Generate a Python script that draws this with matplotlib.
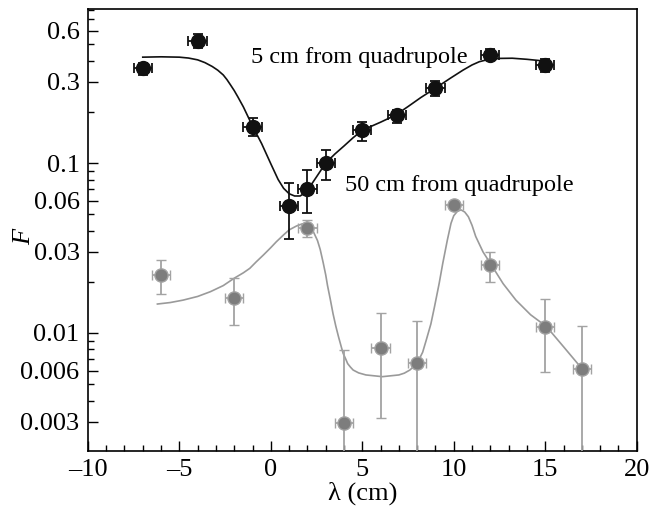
import matplotlib
matplotlib.use("Agg")
import matplotlib.pyplot as plt
from matplotlib.ticker import FixedLocator, LogLocator, NullFormatter, MultipleLocator

plt.rcParams['font.family'] = ['Liberation Serif', 'DejaVu Serif']

# 5 cm from quadrupole (black)
x5 = [-7, -4, -1, 1, 2, 3, 5, 6.9, 9, 12, 15]
f5 = [0.362, 0.523, 0.163, 0.0558, 0.0703, 0.1, 0.156, 0.191, 0.276, 0.431, 0.376]
f5_hi = [0.389, 0.574, 0.184, 0.0763, 0.091, 0.119, 0.174, 0.205, 0.304, 0.469, 0.409]
f5_lo = [0.328, 0.474, 0.144, 0.0357, 0.0508, 0.0794, 0.135, 0.172, 0.248, 0.404, 0.343]

# fit curve, 5 cm
cx5 = [-7, -6, -5, -4.5, -4, -3.6, -3.2, -2.9, -2.6, -2.4, -2.2, -2.0, -1.8, -1.5,
       -1.0, -0.5, 0.0, 0.2, 0.4, 0.7, 1.0, 1.3, 1.6, 1.8, 2.0, 2.5, 3.0, 3.5,
       4.0, 4.5, 5.0, 6.0, 6.8, 7.5, 8.2, 9.0, 9.8, 10.5, 11.0, 11.4, 11.8,
       12.5, 13.2, 14.0, 15.0]
cf5 = [0.42, 0.422, 0.42, 0.415, 0.405, 0.39, 0.37, 0.352, 0.33, 0.31, 0.288,
       0.267, 0.245, 0.214, 0.165, 0.13, 0.099, 0.089, 0.08, 0.071, 0.066,
       0.064, 0.064, 0.066, 0.069, 0.083, 0.1, 0.113, 0.126, 0.141, 0.156,
       0.174, 0.191, 0.215, 0.243, 0.276, 0.315, 0.352, 0.378, 0.395, 0.405,
       0.413, 0.414, 0.408, 0.398]

# 50 cm from quadrupole (gray)
x50 = [-6, -2, 2, 4, 6, 8, 10, 12, 15, 17]
f50 = [0.0219, 0.0161, 0.0415, 0.00296, 0.00817, 0.00666, 0.0566, 0.0251, 0.0108, 0.00614]
f50_hi = [0.0268, 0.0211, 0.046, 0.00795, 0.0131, 0.0118, 0.0598, 0.030, 0.0158, 0.011]
f50_lo = [0.0170, 0.0111, 0.0367, 0.001, 0.00316, 0.001, 0.0536, 0.020, 0.0059, 0.001]

# fit curve, 50 cm
cx50 = [-6.2, -5.5, -4.8, -4.0, -3.3, -2.6, -2.0, -1.5, -1.15, -0.8, -0.4, 0.0,
        0.3, 0.7, 1.0, 1.4, 1.7, 1.9, 2.1, 2.3, 2.55, 2.7, 2.86, 3.0, 3.1, 3.25,
        3.4, 3.55, 3.7, 3.85, 3.95, 4.1, 4.2, 4.35, 4.5, 4.8, 5.2, 6.1, 7.0,
        7.3, 7.6, 7.85, 8.05, 8.3, 8.5, 8.75, 8.95, 9.2, 9.4, 9.65, 9.85, 10.0,
        10.2, 10.4, 10.6, 10.8, 11.0, 11.2, 11.6, 12.06, 12.7, 13.4, 14.2,
        15.07, 16.0, 17.07]
cf50 = [0.0148, 0.0151, 0.0156, 0.0164, 0.0175, 0.019, 0.021, 0.0226, 0.024,
        0.0262, 0.0288, 0.0318, 0.0344, 0.0378, 0.0404, 0.0426, 0.0438,
        0.0442, 0.0438, 0.040, 0.035, 0.031, 0.026, 0.022, 0.019, 0.0158,
        0.013, 0.011, 0.0095, 0.0083, 0.0076, 0.0070, 0.0066, 0.0063, 0.00605,
        0.00582, 0.00566, 0.00553, 0.00566, 0.0058, 0.00605, 0.0064, 0.0068,
        0.0077, 0.0091, 0.0113, 0.0143, 0.0195, 0.0257, 0.0352, 0.0442, 0.049,
        0.052, 0.053, 0.0515, 0.0483, 0.043, 0.037, 0.030, 0.0251, 0.0195,
        0.0156, 0.0128, 0.0109, 0.0083, 0.00605]

xerr_half = 0.5

ytick_vals = [0.003, 0.006, 0.01, 0.03, 0.06, 0.1, 0.3, 0.6]
ytick_labels = ['0.003', '0.006', '0.01', '0.03', '0.06', '0.1', '0.3', '0.6']
xtick_vals = [-10, -5, 0, 5, 10, 15, 20]
xtick_labels = ['\u201310', '\u20135', '0', '5', '10', '15', '20']

fig = plt.figure(figsize=(6.51, 5.09), dpi=100)
ax = fig.add_axes([0.135, 0.114, 0.843, 0.868])

gray_pt = '#7d7d7d'
gray_bar = '#a3a3a3'
black = '#111111'

ax.plot(cx50, cf50, color='#9a9a9a', lw=1.2, zorder=2)
ax.errorbar(x50, f50,
            yerr=[[f - l for f, l in zip(f50, f50_lo)], [h - f for f, h in zip(f50, f50_hi)]],
            xerr=xerr_half, fmt='o', ms=9.5, mfc=gray_pt, mec=gray_bar, mew=1,
            ecolor=gray_bar, elinewidth=1.3, capsize=3.5, capthick=1.3, zorder=3)

ax.plot(cx5, cf5, color=black, lw=1.2, zorder=4)
ax.errorbar(x5, f5,
            yerr=[[f - l for f, l in zip(f5, f5_lo)], [h - f for f, h in zip(f5, f5_hi)]],
            xerr=xerr_half, fmt='o', ms=10, mfc=black, mec=black,
            ecolor=black, elinewidth=1.3, capsize=3.5, capthick=1.3, zorder=5)

ax.set_yscale('log')
ax.set_xlim(-10, 20)
ax.set_ylim(0.00202, 0.805)

ax.yaxis.set_major_locator(FixedLocator(ytick_vals))
ax.set_yticklabels(ytick_labels)
ax.yaxis.set_minor_locator(LogLocator(base=10, subs=range(1, 10)))
ax.yaxis.set_minor_formatter(NullFormatter())
ax.xaxis.set_major_locator(FixedLocator(xtick_vals))
ax.set_xticklabels(xtick_labels)
ax.xaxis.set_minor_locator(MultipleLocator(1))

ax.tick_params(which='both', direction='in', top=False, right=False,
               labelsize=19, width=1)
ax.tick_params(which='major', length=7, pad=6)
ax.tick_params(which='minor', length=4)

for s in ax.spines.values():
    s.set_linewidth(1.2)

ax.set_xlabel('\u03bb (cm)', fontsize=19, labelpad=0)
ax.set_ylabel('F', fontsize=19, style='italic')
ax.yaxis.set_label_coords(-0.097, 0.484)

ax.text(0.494, 0.891, '5 cm from quadrupole', transform=ax.transAxes,
        fontsize=17.5, ha='center', va='center')
ax.text(0.676, 0.60, '50 cm from quadrupole', transform=ax.transAxes,
        fontsize=17.5, ha='center', va='center')

fig.savefig('out.png', dpi=100)
